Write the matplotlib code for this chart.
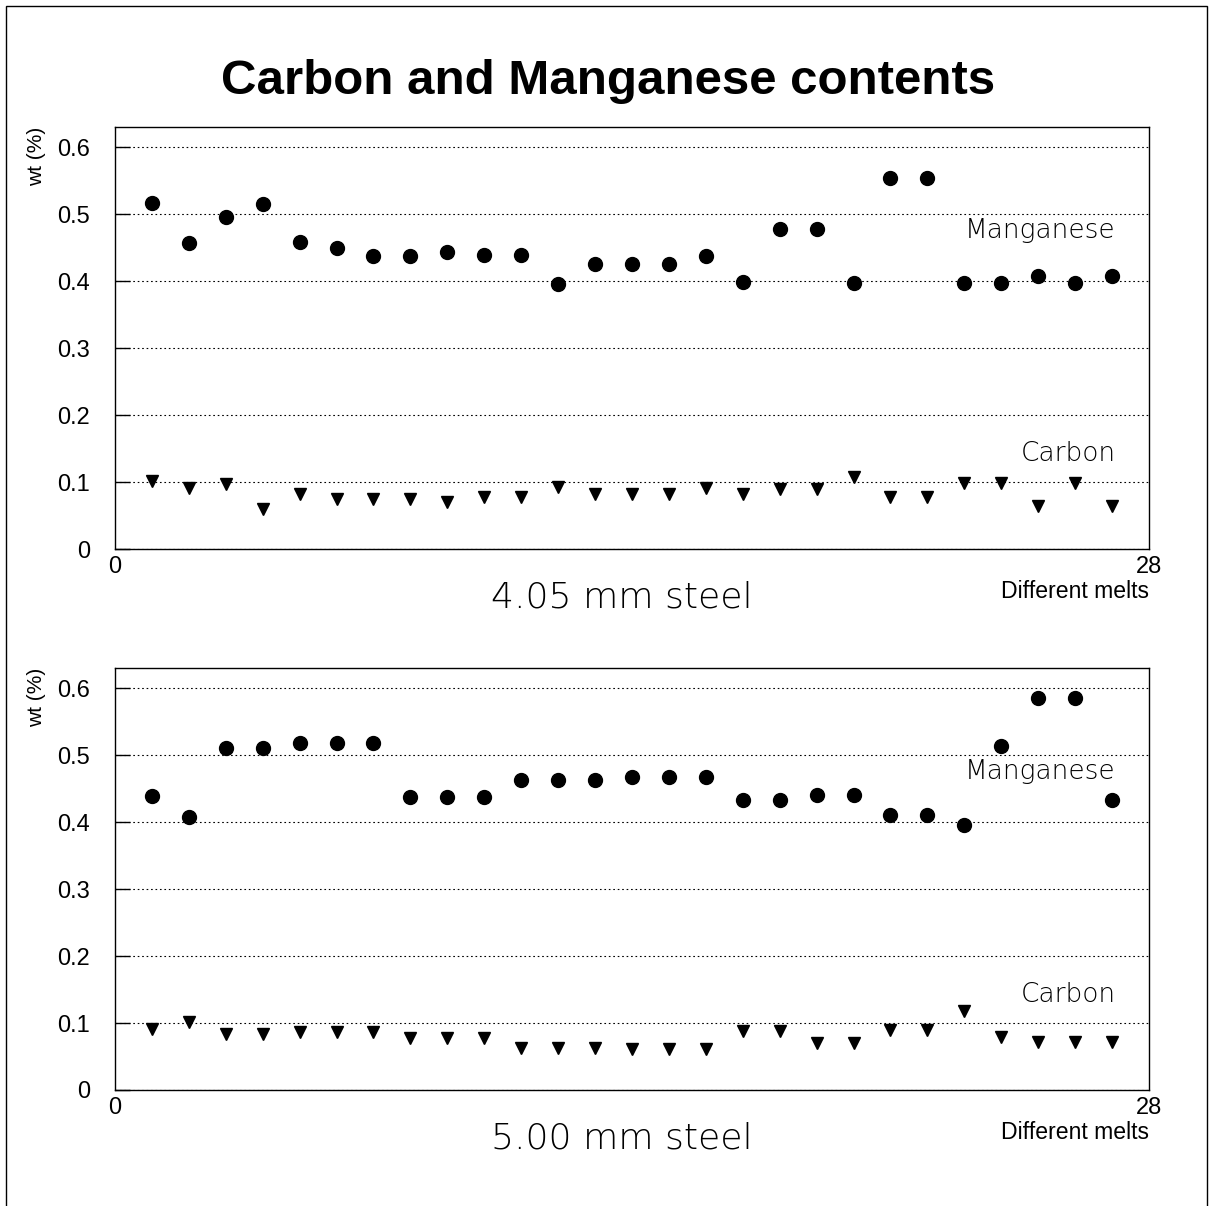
import numpy as np
import matplotlib
matplotlib.use("Agg")
import matplotlib.pyplot as plt
from matplotlib import font_manager as fm
from matplotlib.patches import Rectangle

# melt index 1..27 on a 0..28 axis
melts = np.arange(1, 28)

# 4.05 mm steel, wt %
mn_405 = [0.517, 0.457, 0.495, 0.515, 0.459, 0.450, 0.438, 0.438, 0.443, 0.439,
          0.439, 0.396, 0.425, 0.425, 0.425, 0.437, 0.398, 0.477, 0.477, 0.397,
          0.554, 0.554, 0.397, 0.397, 0.408, 0.397, 0.408]
c_405 = [0.101, 0.091, 0.097, 0.059, 0.082, 0.074, 0.074, 0.074, 0.070, 0.078,
         0.078, 0.093, 0.082, 0.082, 0.082, 0.091, 0.082, 0.089, 0.089, 0.108,
         0.077, 0.077, 0.098, 0.098, 0.064, 0.098, 0.064]

# 5.00 mm steel, wt %
mn_500 = [0.439, 0.408, 0.511, 0.511, 0.518, 0.518, 0.518, 0.438, 0.438, 0.438,
          0.463, 0.463, 0.463, 0.467, 0.467, 0.467, 0.433, 0.433, 0.440, 0.440,
          0.410, 0.410, 0.396, 0.513, 0.585, 0.585, 0.433]
c_500 = [0.091, 0.101, 0.083, 0.083, 0.087, 0.087, 0.087, 0.078, 0.078, 0.078,
         0.063, 0.063, 0.063, 0.061, 0.061, 0.061, 0.088, 0.088, 0.070, 0.070,
         0.090, 0.090, 0.118, 0.079, 0.071, 0.071, 0.071]

panels = [("4.05 mm steel", mn_405, c_405), ("5.00 mm steel", mn_500, c_500)]
yticks = [0, 0.1, 0.2, 0.3, 0.4, 0.5, 0.6]
ytick_labels = ["0", "0.1", "0.2", "0.3", "0.4", "0.5", "0.6"]


def thin_font():
    # look for a light weight face for the annotation text
    for fam in ["DejaVu Sans", "Lato", "Open Sans", "Roboto", "Noto Sans", "Inter"]:
        for f in fm.fontManager.ttflist:
            w = f.weight
            if isinstance(w, str):
                w = fm.weight_dict.get(w, 400)
            if f.name == fam and w <= 300 and f.style == "normal":
                return fm.FontProperties(fname=f.fname)
    return fm.FontProperties(family="DejaVu Sans")


thin = thin_font()
plt.rcParams["font.family"] = ["Liberation Sans", "DejaVu Sans"]

W, H = 1212, 1206
fig = plt.figure(figsize=(W / 100, H / 100), dpi=100)

# outer frame (open at the bottom)
fig.patches.append(Rectangle((6 / W, -0.02), (1207 - 6) / W, 1.02 - 6 / H,
                             transform=fig.transFigure, fill=False,
                             edgecolor="black", linewidth=1.0))

fig.text(608 / W, 1 - 82 / H, "Carbon and Manganese contents",
         ha="center", va="center", fontsize=35.5, fontweight="bold")

ax_left, ax_right = 115 / W, 1149 / W
tops = [127, 668]
bottoms = [549, 1090]

for (sub, mn, c), top, bot in zip(panels, tops, bottoms):
    ax = fig.add_axes([ax_left, 1 - bot / H, ax_right - ax_left, (bot - top) / H])
    ax.set_xlim(0, 28)
    ax.set_ylim(0, 0.63)

    ax.plot(melts, mn, "o", color="black", markersize=10)
    ax.plot(melts, c, "v", color="black", markersize=9)

    ax.set_yticks(yticks)
    ax.set_yticklabels(ytick_labels)
    ax.tick_params(axis="y", direction="in", length=11, width=1.0,
                   labelsize=17, pad=18, right=False)
    ax.set_xticks([0, 28])
    ax.set_xticklabels(["0", "28"])
    ax.tick_params(axis="x", length=0, labelsize=17, pad=5)

    ax.yaxis.grid(True, linestyle=(0, (1.5, 2.5)), color="black", linewidth=0.8)
    for s in ax.spines.values():
        s.set_linewidth(1.0)

    ax.text(-0.076, 1.0, "wt (%)", transform=ax.transAxes, rotation=90,
            ha="center", va="top", fontsize=15)
    ax.text(1.0, -0.1, "Different melts", transform=ax.transAxes,
            ha="right", va="center", fontsize=16.6)
    ax.text(0.490, -0.116, sub, transform=ax.transAxes, ha="center",
            va="center", fontproperties=thin, fontsize=26)

    ax.text(27.1, 0.475, "Manganese", ha="right", va="center",
            fontproperties=thin, fontsize=19)
    ax.text(27.1, 0.143, "Carbon", ha="right", va="center",
            fontproperties=thin, fontsize=19)

fig.savefig("out.png", dpi=100)
